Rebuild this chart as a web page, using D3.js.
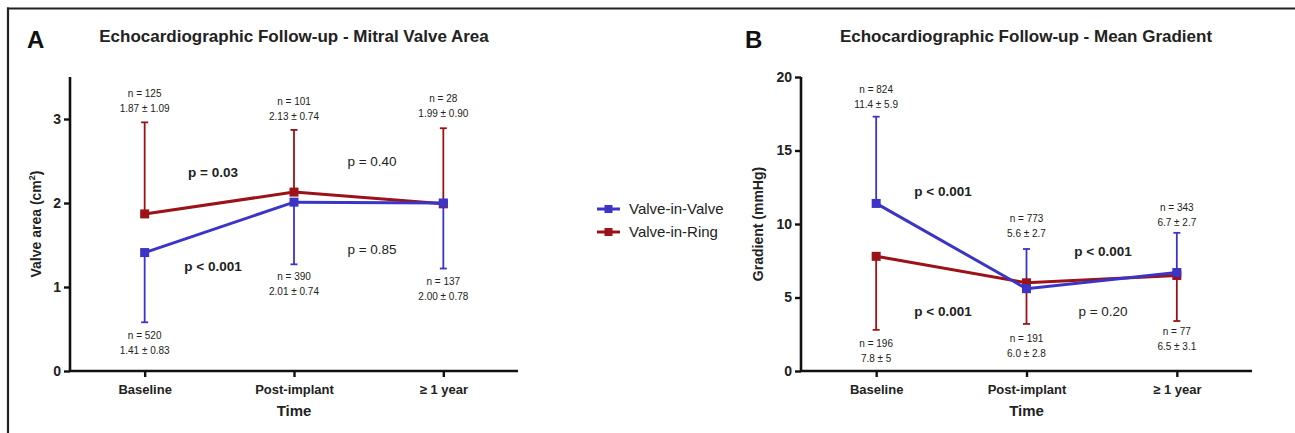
<!DOCTYPE html>
<html><head><meta charset="utf-8">
<script src="https://cdn.jsdelivr.net/npm/d3@7"></script>
<style>
html,body{margin:0;padding:0;background:#fff;}
svg{display:block;font-family:"Liberation Sans",Arial,Helvetica,sans-serif;}
</style></head>
<body>
<svg id="chart" width="1295" height="433"></svg>
<script>
// ---- data ----
const categories = ["Baseline", "Post-implant", "\u2265 1 year"];
const seriesNames = ["Valve-in-Valve", "Valve-in-Ring"];

// Panel A: mitral valve area (cm2)
const areaVinVMean = [1.41, 2.01, 2.00];
const areaVinVSD   = [0.83, 0.74, 0.78];
const areaVinVN    = [520, 390, 137];
const areaVinRMean = [1.87, 2.13, 1.99];
const areaVinRSD   = [1.09, 0.74, 0.90];
const areaVinRN    = [125, 101, 28];
const areaTicks    = [0, 1, 2, 3];
const areaVinVLabels = ["1.41 \u00b1 0.83", "2.01 \u00b1 0.74", "2.00 \u00b1 0.78"];
const areaVinRLabels = ["1.87 \u00b1 1.09", "2.13 \u00b1 0.74", "1.99 \u00b1 0.90"];
const areaPValues = ["p = 0.03", "p < 0.001", "p = 0.40", "p = 0.85"];

// Panel B: mean gradient (mmHg)
const gradVinVMean = [11.4, 5.6, 6.7];
const gradVinVSD   = [5.9, 2.7, 2.7];
const gradVinVN    = [824, 773, 343];
const gradVinRMean = [7.8, 6.0, 6.5];
const gradVinRSD   = [5, 2.8, 3.1];
const gradVinRN    = [196, 191, 77];
const gradTicks    = [0, 5, 10, 15, 20];
const gradVinVLabels = ["11.4 \u00b1 5.9", "5.6 \u00b1 2.7", "6.7 \u00b1 2.7"];
const gradVinRLabels = ["7.8 \u00b1 5", "6.0 \u00b1 2.8", "6.5 \u00b1 3.1"];
const gradPValues = ["p < 0.001", "p < 0.001", "p < 0.001", "p = 0.20"];

const BLUE = "#3b34c6", RED = "#9b1217", INK = "#111";

const svg = d3.select("#chart");

// frame lines
svg.append("line").attr("x1",7).attr("x2",1295).attr("y1",8.5).attr("y2",8.5)
  .attr("stroke","#222").attr("stroke-width",2.2);
svg.append("line").attr("x1",8).attr("x2",8).attr("y1",7.5).attr("y2",433)
  .attr("stroke","#222").attr("stroke-width",2.2);

function panel(opt){
  const g = svg.append("g");
  const x = d3.scalePoint().domain(categories).range([opt.x0, opt.x1]).padding(0.5);
  const y = d3.scaleLinear().domain(opt.yDomain).range([371, 77]);

  // letter & title
  g.append("text").attr("x", opt.letterX).attr("y", 48).attr("font-size", 24)
    .attr("font-weight","bold").attr("fill",INK).text(opt.letter);
  g.append("text").attr("x", opt.titleX).attr("y", 42).attr("text-anchor","middle")
    .attr("font-size", 17).attr("font-weight","bold").attr("fill","#222").text(opt.title);

  // axes
  const ya = g.append("g").attr("transform",`translate(${opt.x0},0)`)
    .call(d3.axisLeft(y).tickValues(opt.ticks).tickSize(6).tickPadding(3).tickFormat(d3.format("d")));
  const xa = g.append("g").attr("transform",`translate(0,371)`)
    .call(d3.axisBottom(x).tickSize(6).tickPadding(8));
  [ya, xa].forEach(a=>{
    a.select(".domain").attr("stroke",INK).attr("stroke-width",2.6);
    a.selectAll(".tick line").attr("stroke",INK).attr("stroke-width",2.4);
    a.selectAll("text").attr("fill","#222").attr("font-weight","bold")
      .attr("font-family","Liberation Sans, Arial, sans-serif");
  });
  ya.select(".domain").attr("d", `M-0,${y(opt.yDomain[1])}V${y(0)}H0`);
  xa.select(".domain").attr("d", `M${opt.x0},0H${opt.x1}`);
  ya.selectAll("text").attr("font-size", 14);
  xa.selectAll("text").attr("font-size", 13);

  g.append("text").attr("x", (opt.x0+opt.x1)/2).attr("y", 416).attr("text-anchor","middle")
    .attr("font-size",15).attr("font-weight","bold").attr("fill","#222").text("Time");
  g.append("text").attr("transform",`translate(${opt.yLabelX},224) rotate(-90)`)
    .attr("text-anchor","middle").attr("font-size",14).attr("font-weight","bold").attr("fill","#222")
    .call(t=>{
      if(opt.yLabelSup){
        t.append("tspan").text(opt.yLabel);
        t.append("tspan").attr("font-size",9).attr("dy",-6).text(opt.yLabelSup);
        t.append("tspan").attr("dy",6).text(")");
      } else t.text(opt.yLabel);
    });

  // series
  opt.series.forEach(s=>{
    s.mean.forEach((m,i)=>{
      const end = m + s.dir*s.sd[i];
      const cx = x(categories[i]);
      g.append("line").attr("x1",cx).attr("x2",cx).attr("y1",y(m)).attr("y2",y(end))
        .attr("stroke",s.color).attr("stroke-width",1.8);
      g.append("line").attr("x1",cx-3.5).attr("x2",cx+3.5).attr("y1",y(end)).attr("y2",y(end))
        .attr("stroke",s.color).attr("stroke-width",1.8);
    });
  });
  opt.series.forEach(s=>{
    const line = d3.line().x((d,i)=>x(categories[i])).y(d=>y(d));
    g.append("path").datum(s.mean).attr("d",line).attr("fill","none")
      .attr("stroke",s.color).attr("stroke-width",3);
    g.selectAll(null).data(s.mean).enter().append("rect")
      .attr("x",(d,i)=>x(categories[i])-4.5).attr("y",d=>y(d)-4.5)
      .attr("width",9).attr("height",9).attr("fill",s.color);
  });
  opt.series.forEach(s=>{
    s.mean.forEach((m,i)=>{
      const cx = x(categories[i]);
      g.append("text").attr("x",cx).attr("y",s.labelY[i]).attr("text-anchor","middle")
        .attr("font-size",10).attr("fill","#222").text("n = " + s.n[i]);
      g.append("text").attr("x",cx).attr("y",s.labelY[i]+15).attr("text-anchor","middle")
        .attr("font-size",10).attr("fill","#222").text(s.labels[i]);
    });
  });
  opt.pvals.forEach(p=>{
    g.append("text").attr("x",p.x).attr("y",p.y).attr("text-anchor","middle")
      .attr("font-size",13.5).attr("font-weight",p.bold?"bold":"normal").attr("fill","#222").text(p.t);
  });
}

panel({
  letter:"A", letterX:27, title:"Echocardiographic Follow-up - Mitral Valve Area", titleX:294,
  x0:70, x1:518, yDomain:[0,3.5], ticks:areaTicks,
  yLabel:"Valve area (cm", yLabelSup:"2", yLabelX:41,
  series:[
    {mean:areaVinRMean, sd:areaVinRSD, n:areaVinRN, labels:areaVinRLabels, color:RED, dir:1, labelY:[97,105,102]},
    {mean:areaVinVMean, sd:areaVinVSD, n:areaVinVN, labels:areaVinVLabels, color:BLUE, dir:-1, labelY:[339,280,285]}
  ],
  pvals:[
    {t:areaPValues[0], x:213, y:177, bold:true},
    {t:areaPValues[1], x:213, y:271, bold:true},
    {t:areaPValues[2], x:372, y:166, bold:false},
    {t:areaPValues[3], x:372, y:254, bold:false}
  ]
});

panel({
  letter:"B", letterX:745, title:"Echocardiographic Follow-up - Mean Gradient", titleX:1026,
  x0:801, x1:1252, yDomain:[0,20], ticks:gradTicks,
  yLabel:"Gradient (mmHg)", yLabelX:763,
  series:[
    {mean:gradVinRMean, sd:gradVinRSD, n:gradVinRN, labels:gradVinRLabels, color:RED, dir:-1, labelY:[347,342,335]},
    {mean:gradVinVMean, sd:gradVinVSD, n:gradVinVN, labels:gradVinVLabels, color:BLUE, dir:1, labelY:[93,222,211]}
  ],
  pvals:[
    {t:gradPValues[0], x:943, y:196, bold:true},
    {t:gradPValues[1], x:943, y:316, bold:true},
    {t:gradPValues[2], x:1103, y:256, bold:true},
    {t:gradPValues[3], x:1103, y:316, bold:false}
  ]
});

// legend
const legendColors = [BLUE, RED];
const lg = svg.append("g");
seriesNames.forEach((nm,i)=>{
  const yy = 209 + i*23;
  lg.append("line").attr("x1",597).attr("x2",620).attr("y1",yy).attr("y2",yy)
    .attr("stroke",legendColors[i]).attr("stroke-width",3);
  lg.append("rect").attr("x",604.5).attr("y",yy-4).attr("width",8).attr("height",8).attr("fill",legendColors[i]);
  lg.append("text").attr("x",629).attr("y",yy+5).attr("font-size",15).attr("fill","#222").text(nm);
});
</script>
</body></html>
